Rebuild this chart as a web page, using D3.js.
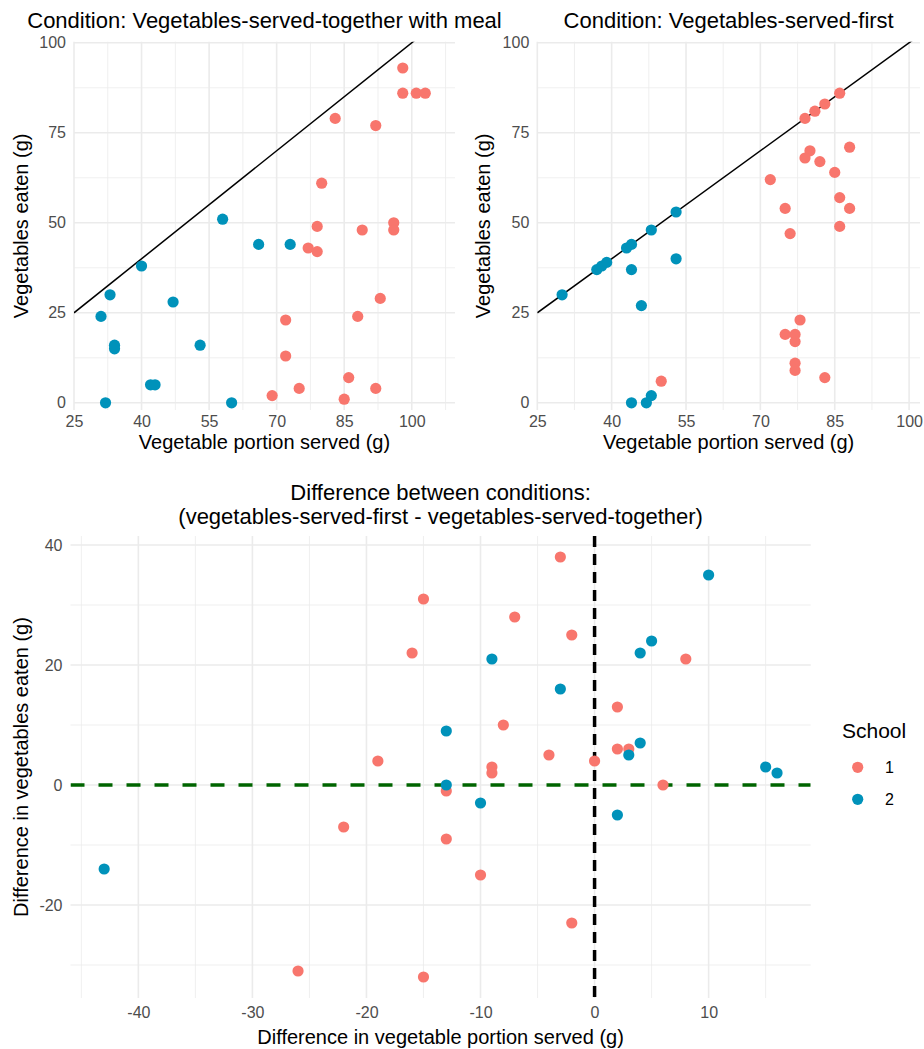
<!DOCTYPE html>
<html lang="en">
<head>
<meta charset="UTF-8">
<title>Vegetables served first vs together</title>
<script src="https://cdn.jsdelivr.net/npm/d3@7"></script>
<style>
  body { margin: 0; background: #fff; }
  svg { display: block; font-family: "Liberation Sans", Arial, sans-serif; }
</style>
</head>
<body>
<script>
// ---- data ----
// condition: vegetables served together with the meal
var togetherPortion = [31, 33, 32, 34, 34, 40, 47, 42, 43, 53, 58, 60, 66, 73,
                       98, 98, 101, 103, 83, 92, 80, 79, 96, 96, 89, 77, 79, 93, 88, 72, 72, 86, 75, 92, 69, 85];
var togetherEaten   = [24, 30, 0, 16, 15, 38, 28, 5, 5, 16, 51, 0, 44, 44,
                       93, 86, 86, 86, 79, 77, 61, 49, 50, 48, 48, 43, 42, 29, 24, 23, 13, 7, 4, 4, 2, 1];
var togetherSchool  = [2, 2, 2, 2, 2, 2, 2, 2, 2, 2, 2, 2, 2, 2,
                       1, 1, 1, 1, 1, 1, 1, 1, 1, 1, 1, 1, 1, 1, 1, 1, 1, 1, 1, 1, 1, 1];

// condition: vegetables served first
var firstPortion = [30, 37, 38, 39, 43, 44, 44, 46, 48, 53, 53, 44, 47, 48,
                    86, 83, 81, 79, 88, 80, 79, 82, 85, 72, 75, 76, 86, 88, 86, 78, 75, 77, 77, 77, 77, 83, 50];
var firstEaten   = [30, 37, 38, 39, 43, 44, 37, 27, 48, 53, 40, 0, 0, 2,
                    86, 83, 81, 79, 71, 70, 68, 67, 64, 62, 54, 47, 57, 54, 49, 23, 19, 19, 17, 11, 9, 7, 6];
var firstSchool  = [2, 2, 2, 2, 2, 2, 2, 2, 2, 2, 2, 2, 2, 2,
                    1, 1, 1, 1, 1, 1, 1, 1, 1, 1, 1, 1, 1, 1, 1, 1, 1, 1, 1, 1, 1, 1, 1];

// difference (first - together)
var diffPortion = [-3, -15, -7, -2, -16, 8, 2, -8, 2, 3, -4, -19, 0, -9, -9, 6, -13, -22, -13, -10, -2, -26, -15,
                   10, 5, 4, -9, -3, -13, 4, 3, 15, 16, -13, -10, 2, -43];
var diffEaten   = [38, 31, 28, 25, 22, 21, 13, 10, 6, 6, 5, 4, 4, 3, 2, 0, -1, -7, -9, -15, -23, -31, -32,
                   35, 24, 22, 21, 16, 9, 7, 5, 3, 2, 0, -3, -5, -14];
var diffSchool  = [1, 1, 1, 1, 1, 1, 1, 1, 1, 1, 1, 1, 1, 1, 1, 1, 1, 1, 1, 1, 1, 1, 1,
                   2, 2, 2, 2, 2, 2, 2, 2, 2, 2, 2, 2, 2, 2];

var schools = ["1", "2"];
var topXTicks = [25, 40, 55, 70, 85, 100];
var topYTicks = [0, 25, 50, 75, 100];
var diffXTicks = [-40, -30, -20, -10, 0, 10];
var diffYTicks = [-20, 0, 20, 40];

var W = 924, H = 1049;
var color = d3.scaleOrdinal().domain(schools).range(["#F8766D", "#0092BA"]);
var grid = "#EBEBEB";

var svg = d3.select("body").append("svg")
    .attr("width", W)
    .attr("height", H);
svg.append("rect").attr("width", W).attr("height", H).attr("fill", "#fff");

function zip(xs, ys, ss) {
    return xs.map(function (d, i) { return { x: d, y: ys[i], s: String(ss[i]) }; });
}

// minor breaks halfway between the majors, like ggplot
function minors(ticks, dom) {
    var step = ticks[1] - ticks[0], out = [];
    for (var v = ticks[0] - step / 2; v <= dom[1]; v += step)
        if (v >= dom[0]) out.push(v);
    return out;
}

var clipId = 0;
function panel(o) {
    var x = o.x, y = o.y;
    var x0 = x.range()[0], x1 = x.range()[1], y0 = y.range()[1], y1 = y.range()[0];
    var g = svg.append("g");

    // grid
    var mx = minors(o.xTicks, x.domain()), my = minors(o.yTicks, y.domain());
    g.selectAll(".vmin").data(mx).enter().append("line")
        .attr("x1", x).attr("x2", x).attr("y1", y0).attr("y2", y1)
        .attr("stroke", grid).attr("stroke-width", 0.8);
    g.selectAll(".hmin").data(my).enter().append("line")
        .attr("x1", x0).attr("x2", x1).attr("y1", y).attr("y2", y)
        .attr("stroke", grid).attr("stroke-width", 0.8);
    g.selectAll(".vmaj").data(o.xTicks).enter().append("line")
        .attr("x1", x).attr("x2", x).attr("y1", y0).attr("y2", y1)
        .attr("stroke", grid).attr("stroke-width", 1.6);
    g.selectAll(".hmaj").data(o.yTicks).enter().append("line")
        .attr("x1", x0).attr("x2", x1).attr("y1", y).attr("y2", y)
        .attr("stroke", grid).attr("stroke-width", 1.6);

    // axes (labels only)
    var ax = g.append("g").attr("transform", "translate(0," + y1 + ")")
        .call(d3.axisBottom(x).tickValues(o.xTicks).tickSize(0).tickPadding(o.xPad)
            .tickFormat(function (d) { return String(d); }));
    var ay = g.append("g").attr("transform", "translate(" + x0 + ",0)")
        .call(d3.axisLeft(y).tickValues(o.yTicks).tickSize(0).tickPadding(8)
            .tickFormat(function (d) { return String(d); }));
    [ax, ay].forEach(function (a) {
        a.select(".domain").remove();
        a.selectAll("text").attr("font-size", 16).attr("fill", "#4D4D4D")
            .attr("font-family", "Liberation Sans, Arial, sans-serif");
    });

    var id = "clip" + (clipId++);
    svg.append("clipPath").attr("id", id).append("rect")
        .attr("x", x0).attr("y", y0).attr("width", x1 - x0).attr("height", y1 - y0);
    var inner = g.append("g").attr("clip-path", "url(#" + id + ")");
    if (o.extra) o.extra(inner, x, y);

    inner.selectAll("circle").data(o.data).enter().append("circle")
        .attr("cx", function (d) { return x(d.x); })
        .attr("cy", function (d) { return y(d.y); })
        .attr("r", 5.6)
        .attr("fill", function (d) { return color(d.s); });

    // titles
    g.append("text").attr("x", (x0 + x1) / 2).attr("y", o.xTitleY)
        .attr("text-anchor", "middle").attr("font-size", 20).text(o.xTitle);
    g.append("text").attr("transform", "translate(" + o.yTitleX + "," + (y0 + y1) / 2 + ") rotate(-90)")
        .attr("text-anchor", "middle").attr("font-size", 20).text(o.yTitle);
    o.title.forEach(function (t, i) {
        g.append("text").attr("x", (x0 + x1) / 2).attr("y", o.titleY + i * 24)
            .attr("text-anchor", "middle").attr("font-size", 22).text(t);
    });
}

function identityLine(inner, x, y) {
    var d = x.domain();
    inner.append("line")
        .attr("x1", x(d[0])).attr("y1", y(d[0]))
        .attr("x2", x(d[1])).attr("y2", y(d[1]))
        .attr("stroke", "#000").attr("stroke-width", 1.5);
}

var yTop = d3.scaleLinear().domain([-2, 100.3]).range([410, 41.7]);

panel({
    x: d3.scaleLinear().domain([25, 109.6]).range([74, 455]),
    y: yTop,
    xTicks: topXTicks, yTicks: topYTicks, xPad: 6,
    data: zip(togetherPortion, togetherEaten, togetherSchool),
    extra: identityLine,
    title: ["Condition: Vegetables-served-together with meal"], titleY: 28,
    xTitle: "Vegetable portion served (g)", xTitleY: 449,
    yTitle: "Vegetables eaten (g)", yTitleX: 28
});

panel({
    x: d3.scaleLinear().domain([25, 102.2]).range([537.3, 920]),
    y: yTop,
    xTicks: topXTicks, yTicks: topYTicks, xPad: 6,
    data: zip(firstPortion, firstEaten, firstSchool),
    extra: identityLine,
    title: ["Condition: Vegetables-served-first"], titleY: 28,
    xTitle: "Vegetable portion served (g)", xTitleY: 449,
    yTitle: "Vegetables eaten (g)", yTitleX: 490
});

panel({
    x: d3.scaleLinear().domain([-45.95, 18.95]).range([70.5, 810.7]),
    y: d3.scaleLinear().domain([-35.5, 41.5]).range([998, 536]),
    xTicks: diffXTicks, yTicks: diffYTicks, xPad: 9,
    data: zip(diffPortion, diffEaten, diffSchool),
    extra: function (inner, x, y) {
        inner.append("line")
            .attr("x1", x.range()[0]).attr("x2", x.range()[1]).attr("y1", y(0)).attr("y2", y(0))
            .attr("stroke", "#006400").attr("stroke-width", 3.5).attr("stroke-dasharray", "14,14");
        inner.append("line")
            .attr("x1", x(0)).attr("x2", x(0)).attr("y1", y.range()[1]).attr("y2", y.range()[0])
            .attr("stroke", "#000").attr("stroke-width", 3.5).attr("stroke-dasharray", "11,7");
    },
    title: ["Difference between conditions:", "(vegetables-served-first - vegetables-served-together)"],
    titleY: 500,
    xTitle: "Difference in vegetable portion served (g)", xTitleY: 1044,
    yTitle: "Difference in vegetables eaten (g)", yTitleX: 28
});

// legend
var lg = svg.append("g");
lg.append("text").attr("x", 842).attr("y", 738).attr("font-size", 21).text("School");
lg.selectAll(".key").data(schools).enter().append("circle")
    .attr("cx", 857.7).attr("cy", function (d, i) { return 767.3 + i * 32; })
    .attr("r", 5.6).attr("fill", function (d) { return color(d); });
lg.selectAll(".lab").data(schools).enter().append("text")
    .attr("x", 885).attr("y", function (d, i) { return 773 + i * 32; })
    .attr("font-size", 16).text(function (d) { return d; });
</script>
</body>
</html>
